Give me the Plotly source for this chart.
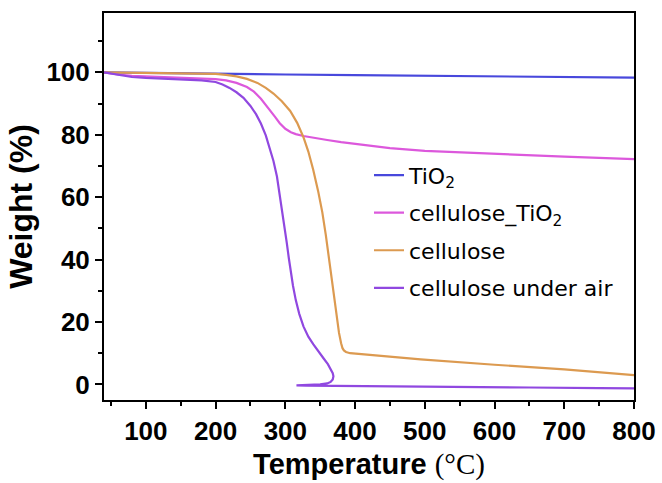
import plotly.graph_objects as go

# ---------------- data ----------------
tio2_T = [40, 100, 200, 300, 400, 500, 600, 700, 800]
tio2_W = [100, 99.8, 99.6, 99.3, 99.1, 98.9, 98.7, 98.5, 98.3]

celtio2_T = [40, 60, 80, 100, 150, 200, 215, 230, 245, 255, 265, 275, 285, 292, 300,
             308, 315, 326, 340, 360, 380, 400, 450, 500, 600, 700, 800]
celtio2_W = [100, 99.3, 98.9, 98.7, 98.3, 97.8, 97.4, 96.6, 95.3, 93.8, 91.5, 88.8,
             85.8, 83.7, 81.9, 80.8, 80.2, 79.6, 79.0, 78.3, 77.6, 77.0, 75.7, 74.8,
             73.8, 73.0, 72.2]

cel_T = [40, 100, 150, 200, 215, 230, 245, 260, 272, 283, 295, 307, 317, 326, 333,
         340, 347, 353, 358, 363, 368, 373, 377, 380, 382, 384, 387, 393, 420, 494,
         600, 700, 800]
cel_W = [100, 99.9, 99.8, 99.5, 99.2, 98.7, 97.9, 96.6, 95.0, 93.2, 90.7, 87.6, 83.8,
         79.2, 74.6, 68.8, 62.0, 55.2, 48.0, 39.8, 30.8, 22.4, 16.5, 13.2, 11.6, 10.9,
         10.4, 10.0, 9.5, 8.0, 6.3, 4.8, 3.0]

air_T = [40, 50, 60, 70, 80, 100, 150, 180, 200, 210, 220, 230, 240, 250, 258, 265,
         272, 278, 283, 288, 292, 296, 299, 302, 305, 308, 311, 315, 320, 326, 333,
         340, 348, 355, 361, 365, 368, 369, 368, 365, 360, 350, 335, 316, 330, 370,
         450, 550, 650, 750, 800]
air_W = [100, 99.6, 99.2, 98.8, 98.5, 98.2, 97.8, 97.4, 96.9, 96.1, 95.0, 93.6, 91.8,
         89.2, 86.6, 83.6, 79.8, 75.6, 71.6, 66.6, 61.0, 55.0, 50.2, 45.5, 40.5, 35.8,
         31.6, 27.0, 22.6, 18.6, 15.3, 12.9, 10.3, 8.3, 6.5, 5.0, 3.6, 2.6, 1.6, 0.8,
         0.3, 0.0, -0.2, -0.3, -0.4, -0.5, -0.6, -0.8, -1.0, -1.2, -1.3]

names = ["TiO<sub>2</sub>", "cellulose_TiO<sub>2</sub>", "cellulose", "cellulose under air"]
colors = ["#4848dc", "#dc58dc", "#dc9a50", "#9048e0"]
xs = [tio2_T, celtio2_T, cel_T, air_T]
ys = [tio2_W, celtio2_W, cel_W, air_W]

fig = go.Figure()
for i, (n, c, x, y) in enumerate(zip(names, colors, xs, ys)):
    fig.add_trace(go.Scatter(x=x, y=y, mode="lines", name=n,
                             line=dict(color=c, width=2.2),
                             legendgroup=str(i)))

axis_font = dict(family="Liberation Sans", size=26, color="black", weight="bold")

fig.update_layout(
    width=662, height=483,
    margin=dict(l=104, r=28, t=13, b=83),
    plot_bgcolor="white", paper_bgcolor="white",
    showlegend=True,
    legend=dict(x=0.50, y=0.635, xanchor="left", yanchor="top",
                bgcolor="rgba(0,0,0,0)", borderwidth=0,
                font=dict(family="DejaVu Sans", size=22, color="black"),
                tracegroupgap=6),
    xaxis=dict(range=[40, 800], tick0=0, dtick=100, ticks="outside", ticklen=7,
               tickwidth=2, tickcolor="black", showline=True, linewidth=2,
               linecolor="black", mirror=True, showgrid=False, zeroline=False,
               tickfont=axis_font, automargin=False,
               minor=dict(dtick=50, tick0=0, ticks="outside", ticklen=4, tickwidth=2,
                          tickcolor="black", showgrid=False),
               title=dict(text="Temperature <span style='font-family:Liberation Serif;font-weight:normal'>(°C)</span>",
                          font=dict(family="Liberation Sans", size=29, color="black", weight="bold"),
                          standoff=8)),
    yaxis=dict(range=[-5, 119], tick0=0, dtick=20, ticks="outside", ticklen=7,
               tickwidth=2, tickcolor="black", showline=True, linewidth=2,
               linecolor="black", mirror=True, showgrid=False, zeroline=False,
               tickfont=axis_font, automargin=False,
               minor=dict(dtick=10, tick0=0, ticks="outside", ticklen=4, tickwidth=2,
                          tickcolor="black", showgrid=False),
               title=dict(text="Weight (%)",
                          font=dict(family="Liberation Sans", size=32, color="black", weight="bold"),
                          standoff=4)),
)

fig.write_html("out.html", config={"displayModeBar": False},
               post_script="document.body.style.margin='0';document.body.style.padding='0';")
